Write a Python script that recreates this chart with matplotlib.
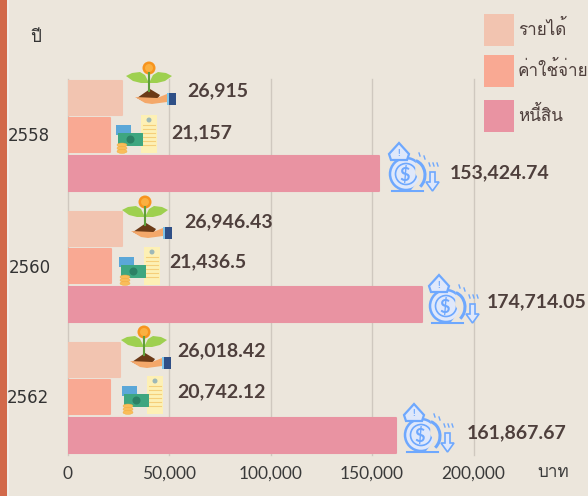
import matplotlib
matplotlib.use("Agg")
import matplotlib.pyplot as plt
from matplotlib import font_manager as fm
from matplotlib.font_manager import FontProperties
from matplotlib.ft2font import FT2Font
from matplotlib.patches import Circle, Ellipse, Polygon, Rectangle, Arc

years = ["2558", "2560", "2562"]
series_names = ["รายได้", "ค่าใช้จ่าย", "หนี้สิน"]
income = [26915, 26946.43, 26018.42]
expense = [21157, 21436.5, 20742.12]
debt = [153424.74, 174714.05, 161867.67]
xticks = [0, 50000, 100000, 150000, 200000]

BG = "#ece6dc"
COLORS = ["#f2c4b0", "#f9a993", "#e993a2"]
TXT = "#4e3f3c"

# look for a font that really has thai glyphs
thai_font = "DejaVu Sans"
for f in fm.fontManager.ttflist:
    try:
        if 0x0E23 in FT2Font(f.fname).get_charmap():
            thai_font = f.name
            break
    except Exception:
        pass
plt.rcParams["font.family"] = ["Lato", "DejaVu Sans"]

W, H = 588, 496
fig = plt.figure(figsize=(W / 100, H / 100), dpi=100, facecolor=BG)

# main axes, 1000 baht is about 2.03 px
ax_left, ax_right, ax_top, ax_bottom = 67.5, 473.5, 79, 455
ax = fig.add_axes([ax_left / W, 1 - ax_bottom / H, (ax_right - ax_left) / W, (ax_bottom - ax_top) / H])
ax.set_facecolor("none")
ax.set_xlim(0, 200000)
ax.set_ylim(ax_bottom, ax_top)  # y in pixels
ax.set_axisbelow(True)
ax.grid(axis="x", color="#cfc8bf", lw=1, clip_on=False)
for s in ax.spines.values():
    s.set_visible(False)
ax.tick_params(length=0)

group_y = [98, 229, 360]
bar_off = [0, 37, 75.5]
bar_h = 34.5
for g in range(3):
    vals = [income[g], expense[g], debt[g]]
    for i in range(3):
        ax.barh(group_y[g] + bar_off[i], vals[i], height=bar_h, color=COLORS[i],
                edgecolor=COLORS[i], lw=1.5, joinstyle="round", zorder=2)

ax.set_xticks(xticks)
ax.set_xticklabels([f"{v:,}" for v in xticks], fontsize=12.5, color="#3a3a3a")
ax.tick_params(axis="x", pad=8)
ax.set_yticks([])

# overlay in pixels for icons, legend and side texts
ov = fig.add_axes([0, 0, 1, 1])
ov.set_xlim(0, W)
ov.set_ylim(H, 0)
ov.axis("off")
ov.patch.set_alpha(0)

ov.add_patch(Rectangle((0, 0), 7, H, color="#d2694a", lw=0))
ov.add_patch(Rectangle((7, 0), 2, H, color="#f2ede6", lw=0))

for name, lx, ly in zip(years, [8, 9, 7], [136, 268, 398]):
    ov.text(lx, ly, name, fontsize=12, color="#333333", family="DejaVu Sans", ha="left", va="center")


def plant(cx, cy):
    # cx, cy is the coin centre
    leaf = [(-23, 8), (-17, 5), (-9, 4), (-4, 7), (0, 15), (-8, 15), (-16, 13)]
    ov.add_patch(Polygon([(cx + a, cy + b) for a, b in leaf], color="#9ed04f", lw=0))
    ov.add_patch(Polygon([(cx - a, cy + b) for a, b in leaf], color="#9ed04f", lw=0))
    ov.plot([cx, cx], [cy + 5, cy + 23], color="#5f9e3a", lw=1.5)
    ov.add_patch(Circle((cx, cy), 6.5, color="#f7941e", lw=0))
    ov.add_patch(Circle((cx, cy), 4, color="#fbb040", lw=0))
    ov.add_patch(Polygon([(cx - 12, cy + 30), (cx + 1, cy + 21), (cx + 11, cy + 27), (cx + 9, cy + 30), (cx - 6, cy + 33)],
                         color="#6b3a17", lw=0))
    ov.add_patch(Polygon([(cx - 14, cy + 29), (cx - 4, cy + 35), (cx + 3, cy + 36), (cx + 18, cy + 34), (cx + 18, cy + 26), (cx + 8, cy + 30)],
                         color="#f4a86a", lw=0))
    ov.add_patch(Rectangle((cx + 18, cy + 25), 2, 12, color="#7fc4e8", lw=0))
    ov.add_patch(Rectangle((cx + 20, cy + 25), 7, 12, color="#2f4f86", lw=0))


def bills(x, y):
    # x, y is the top left of the card/receipt block
    ov.add_patch(Rectangle((x + 25, y), 16, 38, color="#fdf0b5", lw=0))
    ov.add_patch(Circle((x + 33, y + 5), 2.5, color="#9db8b8", lw=0))
    for k in range(6):
        ov.plot([x + 27, x + 39], [y + 10 + k * 4] * 2, color="#f5cf7a", lw=0.8)
    ov.add_patch(Rectangle((x, y + 10), 15, 10, color="#5ba7d8", lw=0))
    ov.add_patch(Rectangle((x + 2, y + 18), 25, 13, color="#3ea680", lw=0))
    ov.add_patch(Circle((x + 14.5, y + 24.5), 4, color="#2c8065", lw=0))
    for k in range(3):
        ov.add_patch(Ellipse((x + 6, y + 30 + k * 3.2), 10, 4, color="#f9bd5a", ec="#f2a93b", lw=0.3))


def debt_icon(x, y):
    # x, y is the top left of the icon, about 50x48 px
    blue = "#6ea8fe"
    ov.add_patch(Circle((x + 17, y + 31), 16, fc="#dfe8fb", ec=blue, lw=1.8))
    ov.add_patch(Circle((x + 17, y + 31), 10.5, fc="#dfe8fb", ec=blue, lw=1.2))
    ov.add_patch(Polygon([(x + 27, y + 15), (x + 36, y + 18), (x + 38, y + 47), (x + 22, y + 47), (x + 30, y + 37), (x + 26, y + 30)],
                         fc=BG, ec="none", zorder=3))
    ov.add_patch(Arc((x + 23, y + 32), 26, 30, theta1=-75, theta2=55, ec=blue, lw=2.2, zorder=4))
    ov.plot([x + 3, x + 34], [y + 47.5, y + 47.5], color=blue, lw=1.5)
    ov.add_patch(Polygon([(x + 10, y + 0), (x + 20, y + 11), (x + 18, y + 17), (x + 2, y + 17), (x + 0, y + 11)],
                         fc="#dfe8fb", ec=blue, lw=1.6, zorder=4))
    ov.text(x + 10, y + 10, "!", color=blue, fontsize=7, ha="center", va="center", fontweight="bold", zorder=5)
    ov.text(x + 16, y + 32, "$", color=blue, fontsize=13, ha="center", va="center", fontweight="bold", zorder=5)
    ov.add_patch(Polygon([(x + 41, y + 29), (x + 46, y + 29), (x + 46, y + 39), (x + 50, y + 39), (x + 43.5, y + 48), (x + 37, y + 39), (x + 41, y + 39)],
                         fc="#dfe8fb", ec=blue, lw=1.2, zorder=4))
    for dx, dy in [(30, 10), (35, 13), (40, 20), (44, 20), (48, 20)]:
        ov.plot([x + dx, x + dx + 1], [y + dy, y + dy + 3], color=blue, lw=1)


for cx, cy in [(149, 68), (145, 202), (144, 332)]:
    plant(cx, cy)
for x, y in [(116, 115), (119, 247), (122, 376)]:
    bills(x, y)
for x, y in [(389, 143), (429, 275), (404, 404)]:
    debt_icon(x, y)

# value labels
label_x = [[187, 171, 450], [184, 169, 487], [177, 177, 467]]
label_y = [[91, 133, 173], [222, 262, 302], [351, 392, 433]]
for g, vals in enumerate(zip(income, expense, debt)):
    for i, v in enumerate(vals):
        ov.text(label_x[g][i], label_y[g][i], f"{v:,}", fontsize=14, fontweight="bold", color=TXT,
                ha="left", va="center", zorder=6)

# legend
thai = FontProperties(family=[thai_font, "DejaVu Sans"], size=12.3)
for (ly, lh), name, c in zip([(14, 32), (55, 32), (100, 32)], series_names, COLORS):
    ov.add_patch(Rectangle((484, ly), 30, lh, color=c, lw=0))
    ov.text(518, ly + lh / 2 - 1, name, color=TXT, fontproperties=thai, ha="left", va="center")

ov.text(36, 38, "ปี", color="#333333", fontproperties=thai, ha="center", va="center")
ov.text(553, 473, "บาท", color="#3a3a3a", fontproperties=thai, ha="center", va="center")

fig.savefig("out.png", dpi=100, facecolor=BG)
